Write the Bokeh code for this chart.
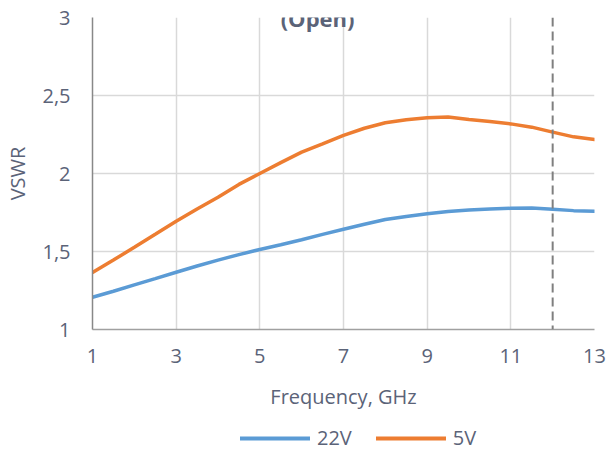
from bokeh.plotting import figure
from bokeh.layouts import column
from bokeh.models import (Range1d, Span, Label, Legend, LegendItem, FixedTicker,
                          CustomJSTickFormatter)
from bokeh.embed import file_html
from bokeh.resources import INLINE

# ---- data ----
freq = [1.0, 1.5, 2.0, 2.5, 3.0, 3.5, 4.0, 4.5, 5.0, 5.5, 6.0, 6.5, 7.0,
        7.5, 8.0, 8.5, 9.0, 9.5, 10.0, 10.5, 11.0, 11.5, 12.0, 12.5, 13.0]
vswr_22v = [1.207, 1.245, 1.286, 1.326, 1.367, 1.407, 1.445, 1.480, 1.513,
            1.543, 1.575, 1.610, 1.643, 1.675, 1.705, 1.725, 1.742, 1.757,
            1.766, 1.772, 1.777, 1.779, 1.771, 1.762, 1.758]
vswr_5v = [1.365, 1.445, 1.527, 1.610, 1.694, 1.773, 1.848, 1.930, 2.000,
           2.070, 2.137, 2.190, 2.244, 2.290, 2.325, 2.345, 2.357, 2.362,
           2.346, 2.333, 2.318, 2.297, 2.265, 2.235, 2.218]
x_ticks = [1, 3, 5, 7, 9, 11, 13]
y_ticks = [1, 1.5, 2, 2.5, 3]
marker_freq = 12
series_names = ["22V", "5V"]
series_colors = ["#5b9bd5", "#ed7d31"]
title_text = "(Open)"
x_title = "Frequency, GHz"
y_title = "VSWR"

TXT = "#5b6378"
FONT = "Open Sans"

p = figure(width=609, height=420, output_backend="svg", toolbar_location=None,
           x_range=Range1d(1, 13), y_range=Range1d(1, 3),
           min_border_left=92, min_border_right=15, min_border_top=17,
           min_border_bottom=91)
p.outline_line_color = None
p.background_fill_color = "white"
p.border_fill_color = "white"

# grids
p.xgrid.ticker = FixedTicker(ticks=x_ticks)
p.ygrid.ticker = FixedTicker(ticks=y_ticks)
for g in (p.xgrid[0], p.ygrid[0]):
    g.grid_line_color = "#d9d9d9"
    g.grid_line_width = 1.5

# axes
p.xaxis.ticker = FixedTicker(ticks=x_ticks)
p.yaxis.ticker = FixedTicker(ticks=y_ticks)
p.yaxis.formatter = CustomJSTickFormatter(code="return String(tick).replace('.', ',');")
for ax in (p.xaxis[0], p.yaxis[0]):
    ax.major_tick_line_color = None
    ax.minor_tick_line_color = None
    ax.major_tick_in = 0
    ax.major_tick_out = 0
    ax.major_label_text_font = FONT
    ax.major_label_text_font_size = "20px"
    ax.major_label_text_color = TXT
    ax.axis_label_text_font = FONT
    ax.axis_label_text_font_size = "20px"
    ax.axis_label_text_color = TXT
    ax.axis_label_text_font_style = "normal"
p.yaxis.axis_line_color = "#888888"
p.yaxis.axis_line_width = 1.5
p.xaxis.axis_line_color = "#a0a0a0"
p.xaxis.axis_line_width = 1.5
p.yaxis.major_label_standoff = 22
p.xaxis.major_label_standoff = 19
p.yaxis.axis_label = y_title
p.xaxis.axis_label = x_title
p.yaxis.axis_label_standoff = 8
p.xaxis.axis_label_standoff = 17

# dashed marker line
p.add_layout(Span(location=marker_freq, dimension="height", line_color="#7f7f7f",
                  line_width=2, line_dash="9 5"))

p.line(freq, vswr_22v, line_color=series_colors[0], line_width=3.5, line_cap="round")
p.line(freq, vswr_5v, line_color=series_colors[1], line_width=3.5, line_cap="round")

p.add_layout(Label(x=6.38, y=3, y_offset=0, text=title_text, text_align="center",
                   text_baseline="alphabetic", text_font=FONT,
                   text_font_size="22px", text_font_style="bold", text_color=TXT))

# ---- legend strip (same series; its ranges keep the lines out of view) ----
pl = figure(width=609, height=31, output_backend="svg", toolbar_location=None,
            x_range=Range1d(100, 101), y_range=Range1d(100, 101),
            x_axis_location=None, y_axis_location=None, min_border=0)
pl.outline_line_color = None
pl.xgrid.visible = False
pl.ygrid.visible = False
l1 = pl.line(freq, vswr_22v, line_color=series_colors[0], line_width=4, line_cap="round")
l2 = pl.line(freq, vswr_5v, line_color=series_colors[1], line_width=4, line_cap="round")
legend = Legend(items=[LegendItem(label=series_names[0], renderers=[l1]),
                       LegendItem(label=series_names[1], renderers=[l2])],
                orientation="horizontal", location=(148, 0),
                padding=0, margin=0, spacing=24, glyph_width=70, glyph_height=20,
                label_standoff=7, border_line_color=None, background_fill_alpha=0,
                label_text_font=FONT, label_text_font_size="20px",
                label_text_color=TXT)
pl.add_layout(legend)

open("out.html", "w").write(file_html(column(p, pl), INLINE))
